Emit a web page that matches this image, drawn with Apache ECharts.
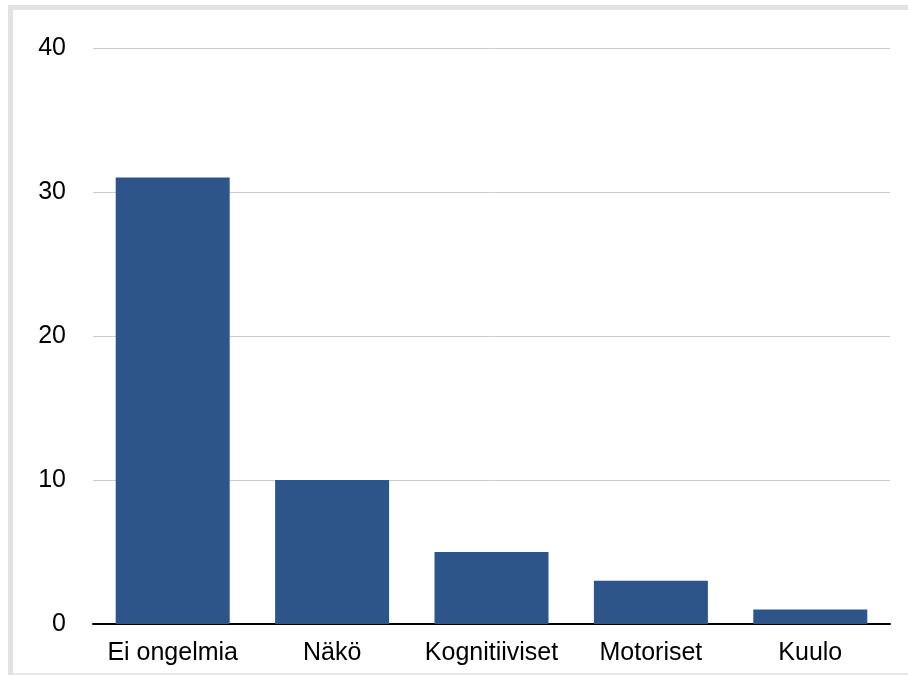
<!DOCTYPE html>
<html>
<head>
<meta charset="utf-8">
<script src="https://cdn.jsdelivr.net/npm/echarts@6/dist/echarts.min.js"></script>
<style>
  html, body { margin: 0; padding: 0; background: #fff; }
  #wrap { position: relative; width: 908px; height: 675px; overflow: hidden; }
  #chart { position: absolute; left: 0; top: 0; width: 908px; height: 675px; }
  .frame { position: absolute; background: #e2e2e2; }
</style>
</head>
<body>
<div id="wrap">
  <div id="chart"></div>
  <div class="frame" style="left:8px; top:5px; width:900px; height:5px;"></div>
  <div class="frame" style="left:8px; top:5px; width:5px; height:670px;"></div>
  <div class="frame" style="left:13px; top:673px; width:895px; height:2px; background:#e8e8e8;"></div>
</div>
<script>
// Vastaajien ongelmat (lukumäärät)
const categories = ['Ei ongelmia', 'Näkö', 'Kognitiiviset', 'Motoriset', 'Kuulo'];
const counts = [31, 10, 5, 3, 1];
const yTicks = { min: 0, max: 40, step: 10 };

const chart = echarts.init(document.getElementById('chart'), null, { renderer: 'canvas' });
const font = 'Liberation Sans, Arial, Helvetica, sans-serif';

chart.setOption({
  animation: false,
  backgroundColor: 'transparent',
  grid: { left: 93, right: 18, top: 48, bottom: 51, containLabel: false, outerBoundsMode: 'none' },
  xAxis: {
    type: 'category',
    data: categories,
    axisLine: { show: true, lineStyle: { color: '#000', width: 2 } },
    axisTick: { show: false },
    axisLabel: { color: '#000', fontSize: 25, fontFamily: font, margin: 17, interval: 0 }
  },
  yAxis: {
    type: 'value',
    min: yTicks.min,
    max: yTicks.max,
    interval: yTicks.step,
    axisLine: { show: false },
    axisTick: { show: false },
    axisLabel: { color: '#000', fontSize: 25, fontFamily: font, margin: 27 },
    splitLine: { lineStyle: { color: '#cccccc', width: 1 } }
  },
  series: [{
    type: 'bar',
    data: counts,
    barWidth: 114,
    itemStyle: { color: '#2e5589' }
  }]
});
</script>
</body>
</html>
